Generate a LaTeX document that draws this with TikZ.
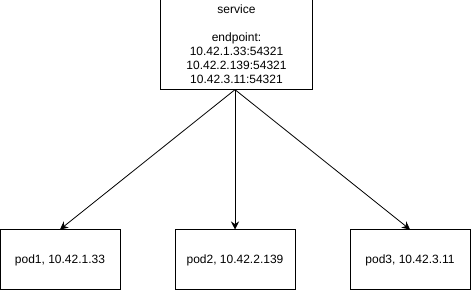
\documentclass[tikz,border=0pt]{standalone}
\usepackage{fontspec}
\setmainfont{Liberation Sans}
\usetikzlibrary{arrows.meta}
\begin{document}
\begin{tikzpicture}[x=0.75pt,y=0.75pt]
            % Fix the frame to the reference size
            \useasboundingbox (0,0) rectangle (471,291);

            % Define the box styles
            \tikzset{box/.style={draw, thick, line width=0.75pt, inner sep=0pt, align=center,
                font=\fontsize{9}{10.5}\selectfont}}

            % Draw the service box
            \node[box, minimum width=114pt, minimum height=67pt] (svc) at (236.5,246.5)
                {service\\[10.5pt]endpoint:\\10.42.1.33:54321\\10.42.2.139:54321\\10.42.3.11:54321};

            % Draw the pod boxes
            \node[box, minimum width=90pt, minimum height=45pt] (pod1) at (60,31) {pod1, 10.42.1.33};
            \node[box, minimum width=90pt, minimum height=45pt] (pod2) at (235,31) {pod2, 10.42.2.139};
            \node[box, minimum width=90pt, minimum height=45pt] (pod3) at (410,31) {pod3, 10.42.3.11};

            % Draw the arrows from the service to each pod
            \foreach \pod in {pod1, pod2, pod3}
                \draw[line width=0.6pt, -{Stealth[length=6pt,width=6pt]}] (svc.south -| 235,0) -- (\pod.north);

        \end{tikzpicture}
\end{document}
